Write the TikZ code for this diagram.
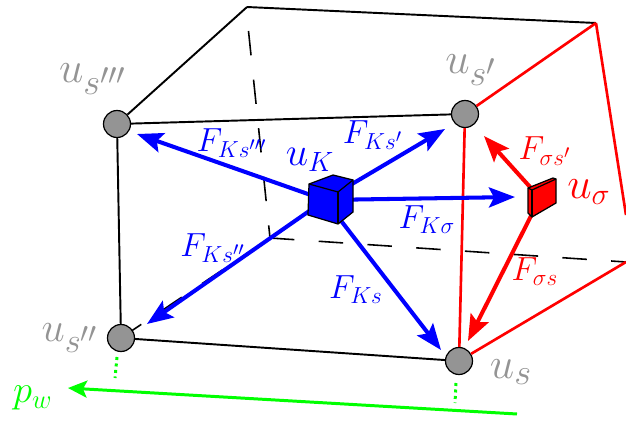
\documentclass[tikz,border=0pt]{standalone}
\usetikzlibrary{arrows.meta}
\tikzset{
  vertex/.style={circle,draw=black,fill=black!42,line width=0.7pt,minimum size=0.54cm,inner sep=0pt},
  edge/.style={line width=1.1pt,black},
  hidden/.style={line width=0.9pt,black,dash pattern=on 13.9pt off 13.9pt},
  redge/.style={line width=1.5pt,red},
  flux/.style={line width=2.3pt,-{Stealth[length=0.52cm,width=0.4cm,inset=0.1cm]}},
  graylab/.style={text=black!42,font=\Huge},
  bluelab/.style={text=blue,font=\LARGE,scale=1.1},
  redlab/.style={text=red,font=\LARGE,scale=1.1},
}
\begin{document}
\begin{tikzpicture}[>=stealth]
	  \useasboundingbox (0,0) rectangle (12.52,8.42);
	  \coordinate (back) at (4.94,8.28);
	  \coordinate (backh) at (4.97,7.80);
	  \coordinate (backr) at (11.92,7.96);
	  \coordinate (backd) at (5.40,3.66);
	  \coordinate (rightu) at (12.52,4.12);
	  \coordinate (rightd) at (12.52,3.18);
	  \coordinate (sppc) at (2.42,1.66);
	  \coordinate (K) at (6.50,4.42);
	  \coordinate (sig) at (10.80,4.46);
	  \coordinate (tipsppp) at (2.74,5.74);
	  \coordinate (tipsp) at (8.90,5.84);
	  \coordinate (tipsig) at (10.30,4.48);
	  \coordinate (tipspp) at (2.94,1.94);
	  \coordinate (tips) at (8.82,1.42);
	  \coordinate (rtipsp) at (9.68,5.70);
	  \coordinate (rtips) at (9.36,1.60);
	  \coordinate (greena) at (10.34,0.14);
	  \coordinate (greenb) at (1.36,0.66);
	  \coordinate (dota) at (2.34,1.28);
	  \coordinate (dotb) at (2.30,0.86);
	  \coordinate (dotc) at (9.12,0.76);
	  \coordinate (dotd) at (9.10,0.36);
	  % hidden edges
	  \draw[hidden] (backh) -- (backd);
	  \draw[hidden] (backd) -- (rightd);
	  \draw[hidden] (sppc) -- (backd);
	  % box
	  \node[vertex] (sppp) at (2.34,5.94) {};
	  \node[vertex] (sp) at (9.30,6.14) {};
	  \node[vertex] (spp) at (sppc) {};
	  \node[vertex] (s) at (9.18,1.20) {};
	  \draw[edge] (sppp) -- (sp);
	  \draw[edge] (sppp) -- (spp);
	  \draw[edge] (spp) -- (s);
	  \draw[edge] (sppp) -- (back);
	  \draw[edge] (back) -- (backr);
	  \draw[redge] (sp) -- (backr);
	  \draw[redge] (backr) -- (rightu);
	  \draw[redge] (sp) -- (s);
	  \draw[redge] (s) -- (rightd);
	  % fluxes
	  \draw[flux,blue] (K) -- (tipsppp);
	  \draw[flux,blue] (K) -- (tipsp);
	  \draw[flux,blue] (K) -- (tipsig);
	  \draw[flux,blue] (K) -- (tipspp);
	  \draw[flux,blue] (K) -- (tips);
	  \draw[flux,red] (sig) -- (rtipsp);
	  \draw[flux,red] (sig) -- (rtips);
	  % cube
	  \filldraw[blue,draw=black,line width=0.7pt] (6.18,4.74) -- (6.66,4.92) -- (7.06,4.82) -- (7.06,4.18) -- (6.76,3.94) -- (6.16,4.12) -- cycle;
	  \draw[black,line width=0.7pt] (6.18,4.74) -- (6.76,4.58) -- (7.06,4.82);
	  \draw[black,line width=0.7pt] (6.76,4.58) -- (6.76,3.94);
	  % face
	  \filldraw[red,draw=black,line width=0.7pt] (10.56,4.66) -- (11.06,4.86) -- (11.12,4.84) -- (11.12,4.36) -- (10.64,4.08) -- (10.56,4.16) -- cycle;
	  \draw[black,line width=0.7pt] (10.56,4.66) -- (10.64,4.62) -- (11.12,4.84);
	  \draw[black,line width=0.7pt] (10.64,4.62) -- (10.64,4.08);
	  % groundwater
	  \draw[line width=1.7pt,green,-{Stealth[length=0.38cm,width=0.34cm,inset=0.08cm]}] (greena) -- (greenb);
	  \draw[line width=1.7pt,green,dotted] (dota) -- (dotb);
	  \draw[line width=1.7pt,green,dotted] (dotc) -- (dotd);
	  % labels
	  \node[graylab] (lsppp) at (1.86,6.84) {$u_{s'''}$};
	  \node[graylab] (lsp) at (9.42,7.02) {$u_{s'}$};
	  \node[graylab,scale=0.95] (lspp) at (1.40,1.66) {$u_{s''}$};
	  \node[graylab] (ls) at (10.22,0.98) {$u_{s}$};
	  \node[text=blue,font=\huge,scale=1.1] (lK) at (6.20,5.22) {$u_{K}$};
	  \node[text=red,font=\huge,scale=1.2] (lsig) at (11.78,4.58) {$u_{\sigma}$};
	  \node[text=green,font=\LARGE,scale=1.27] (lpw) at (0.66,0.46) {$p_{w}$};
	  \node[bluelab] (fsppp) at (4.64,5.56) {$F_{Ks'''}$};
	  \node[bluelab] (fsp) at (7.46,5.72) {$F_{Ks'}$};
	  \node[bluelab] (fsig) at (8.54,4.02) {$F_{K\sigma}$};
	  \node[bluelab] (fspp) at (4.26,3.46) {$F_{Ks''}$};
	  \node[bluelab] (fs) at (7.12,2.62) {$F_{Ks}$};
	  \node[redlab] (rsp) at (10.90,5.40) {$F_{\sigma s'}$};
	  \node[redlab] (rs) at (10.70,2.98) {$F_{\sigma s}$};
	\end{tikzpicture}
\end{document}
